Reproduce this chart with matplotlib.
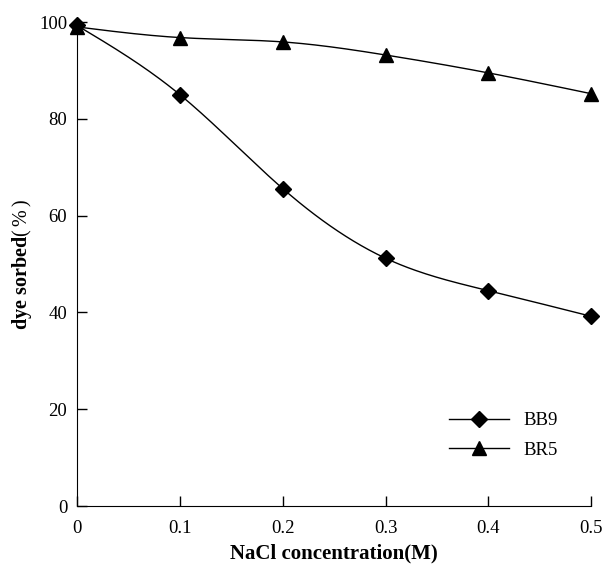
import numpy as np
import matplotlib.pyplot as plt

plt.rcParams['font.family'] = ['Liberation Serif', 'DejaVu Serif']
plt.rcParams['mathtext.fontset'] = 'custom'
plt.rcParams['mathtext.rm'] = 'Liberation Serif'

nacl = [0, 0.1, 0.2, 0.3, 0.4, 0.5]
bb9 = [99.3, 85.0, 65.6, 51.2, 44.5, 39.2]
br5 = [99.0, 96.8, 95.9, 93.2, 89.5, 85.2]


def smooth(x, y, n=200):
    # natural cubic spline, just for drawing the curve through the points
    x = np.asarray(x, float)
    y = np.asarray(y, float)
    k = len(x)
    h = np.diff(x)
    A = np.zeros((k, k))
    b = np.zeros(k)
    A[0, 0] = A[-1, -1] = 1
    for i in range(1, k - 1):
        A[i, i - 1] = h[i - 1]
        A[i, i] = 2 * (h[i - 1] + h[i])
        A[i, i + 1] = h[i]
        b[i] = 6 * ((y[i + 1] - y[i]) / h[i] - (y[i] - y[i - 1]) / h[i - 1])
    m = np.linalg.solve(A, b)
    xs = np.linspace(x[0], x[-1], n)
    idx = np.clip(np.searchsorted(x, xs) - 1, 0, k - 2)
    t = xs - x[idx]
    hi = h[idx]
    a = y[idx]
    bb = (y[idx + 1] - y[idx]) / hi - hi * (2 * m[idx] + m[idx + 1]) / 6
    c = m[idx] / 2
    d = (m[idx + 1] - m[idx]) / (6 * hi)
    return xs, a + bb * t + c * t ** 2 + d * t ** 3


fig = plt.figure(figsize=(6.02, 5.66), dpi=100)
ax = fig.add_axes([0.128, 0.106, 0.854, 0.855])

for vals, mk, ms, lab in [(bb9, 'D', 8.5, 'BB9'), (br5, '^', 9.5, 'BR5')]:
    xs, ys = smooth(nacl, vals)
    ax.plot(xs, ys, color='black', lw=1, clip_on=False)
    ax.plot(nacl, vals, linestyle='none', marker=mk, ms=ms, color='black', clip_on=False, zorder=3)
    ax.plot([], [], color='black', lw=1, marker=mk, ms=ms, label=lab)

ax.set_xlim(0, 0.5)
ax.set_ylim(0, 100)
ax.set_xticks(nacl)
ax.set_xticklabels(['0', '0.1', '0.2', '0.3', '0.4', '0.5'])
ax.set_yticks([0, 20, 40, 60, 80, 100])
ax.tick_params(direction='in', length=7, width=1, labelsize=13.5)
ax.tick_params(axis='x', pad=10)
ax.tick_params(axis='y', pad=7)
ax.spines['top'].set_visible(False)
ax.spines['right'].set_visible(False)
ax.set_xlabel('NaCl concentration(M)', fontsize=15, fontweight='bold', labelpad=5)
ax.set_ylabel(r'dye sorbed$(\,\%\,)$', fontsize=14.5, fontweight='bold', labelpad=4)
ax.legend(loc='upper left', bbox_to_anchor=(0.69, 0.229), frameon=False, fontsize=13.5,
          handlelength=3.2, labelspacing=0.68)

fig.savefig('out.png')
